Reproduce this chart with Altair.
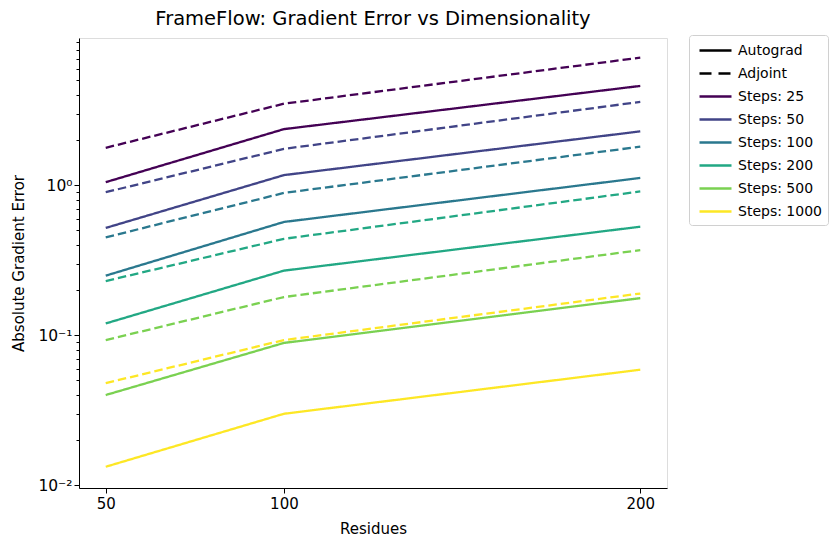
import altair as alt
import pandas as pd

residues = [50, 100, 200]
steps = [25, 50, 100, 200, 500, 1000]

autograd_25 = [1.05, 2.37, 4.6]
autograd_50 = [0.52, 1.17, 2.29]
autograd_100 = [0.25, 0.57, 1.12]
autograd_200 = [0.12, 0.27, 0.53]
autograd_500 = [0.040, 0.089, 0.177]
autograd_1000 = [0.0133, 0.030, 0.059]

adjoint_25 = [1.78, 3.5, 7.1]
adjoint_50 = [0.90, 1.75, 3.6]
adjoint_100 = [0.45, 0.89, 1.81]
adjoint_200 = [0.23, 0.44, 0.91]
adjoint_500 = [0.093, 0.18, 0.37]
adjoint_1000 = [0.048, 0.093, 0.19]

autograd = [autograd_25, autograd_50, autograd_100, autograd_200, autograd_500, autograd_1000]
adjoint = [adjoint_25, adjoint_50, adjoint_100, adjoint_200, adjoint_500, adjoint_1000]

colors = ["#440154", "#414487", "#2a788e", "#22a884", "#7ad151", "#fde725"]
step_labels = [f"Steps: {s}" for s in steps]
methods = ["Autograd", "Adjoint"]

y_ticks = [0.01, 0.02, 0.03, 0.04, 0.05, 0.06, 0.07, 0.08, 0.09,
           0.1, 0.2, 0.3, 0.4, 0.5, 0.6, 0.7, 0.8, 0.9,
           1, 2, 3, 4, 5, 6, 7, 8, 9]

rows = []
for lab, a, d in zip(step_labels, autograd, adjoint):
    for r, va in zip(residues, a):
        rows.append({"residues": r, "err": va, "steps": lab, "method": "Autograd", "series": lab + " A"})
    for r, vd in zip(residues, d):
        rows.append({"residues": r, "err": vd, "steps": lab, "method": "Adjoint", "series": lab + " D"})
df = pd.DataFrame(rows)

legend_keys = methods + step_labels
leg_df = pd.DataFrame({"key": legend_keys,
                       "residues": [residues[0]] * len(legend_keys),
                       "err": [autograd_25[0]] * len(legend_keys)})

FONT = "DejaVu Sans"

x_scale = alt.Scale(domain=[42.5, 207.5], nice=False, zero=False)
y_scale = alt.Scale(type="log", domain=[0.0096, 9.6], nice=False)

x_axis = alt.Axis(values=residues, title="Residues", grid=False, labelFlush=False,
                  tickSize=5, labelPadding=3, labelFontSize=15, titleFontSize=15,
                  labelFont=FONT, titleFont=FONT, titleFontWeight="normal",
                  labelColor="black", titleColor="black", tickColor="black",
                  domainColor="black", titleY=40, titleBaseline="middle")
y_axis = alt.Axis(values=y_ticks, title="Absolute Gradient Error", grid=False,
                  labelFlush=False, labelOverlap=False,
                  labelExpr="datum.value == 1 ? '10⁰' : datum.value == 0.1 ? '10⁻¹' : datum.value == 0.01 ? '10⁻²' : ''",
                  tickSize={"condition": {"test": "abs(log(datum.value)/LN10 - round(log(datum.value)/LN10)) < 0.001", "value": 5}, "value": 3},
                  labelPadding=2, labelFontSize=15.5, titleFontSize=15,
                  labelFont=FONT, titleFont=FONT, titleFontWeight="normal",
                  labelColor="black", titleColor="black", tickColor="black",
                  domainColor="black", titleX=-61, titleY=225, titleBaseline="middle",
                  titleAlign="center", titleAngle=270)

x_enc = alt.X("residues:Q", scale=x_scale, axis=x_axis)
y_enc = alt.Y("err:Q", scale=y_scale, axis=y_axis)

lines = alt.Chart(df).mark_line(strokeWidth=2.3, clip=True).encode(
    x=x_enc,
    y=y_enc,
    color=alt.Color("steps:N", scale=alt.Scale(domain=step_labels, range=colors), legend=None),
    strokeDash=alt.StrokeDash("method:N", scale=alt.Scale(domain=methods, range=[[1, 0], [8.5, 4]]), legend=None),
    detail="series:N",
)

leg = alt.Legend(title=None, orient="none", legendX=610, legendY=-3,
                 symbolType="M-2,0H2", symbolSize=256, symbolStrokeWidth=2.4,
                 symbolOffset=11, labelOffset=13,
                 labelFont=FONT, labelFontSize=14, labelColor="black",
                 rowPadding=6, padding=6, strokeColor="#d0d0d0", fillColor="white",
                 cornerRadius=3, labelLimit=200)

legend_layer = alt.Chart(leg_df).mark_line(strokeWidth=2.4).encode(
    x=x_enc,
    y=y_enc,
    color=alt.Color("key:N", scale=alt.Scale(domain=legend_keys, range=["black", "black"] + colors), legend=leg),
    strokeDash=alt.StrokeDash("key:N", scale=alt.Scale(domain=legend_keys, range=[[1, 0], [12, 7]] + [[1, 0]] * 6), legend=leg),
)

chart = alt.layer(lines, legend_layer).resolve_scale(
    color="independent", strokeDash="independent"
).properties(
    width=588, height=450,
    autosize=alt.AutoSizeParams(type="none"),
    padding={"left": 79, "top": 38, "right": 166, "bottom": 48},
    title=alt.TitleParams("FrameFlow: Gradient Error vs Dimensionality", font=FONT, fontSize=19.5,
                          fontWeight="normal", color="black", anchor="middle", frame="group",
                          baseline="alphabetic", offset=9, dy=19),
).configure_view(stroke="black", strokeWidth=1.2).configure(background="white")

chart.save("out.html", embed_options={"renderer": "svg", "actions": False})
